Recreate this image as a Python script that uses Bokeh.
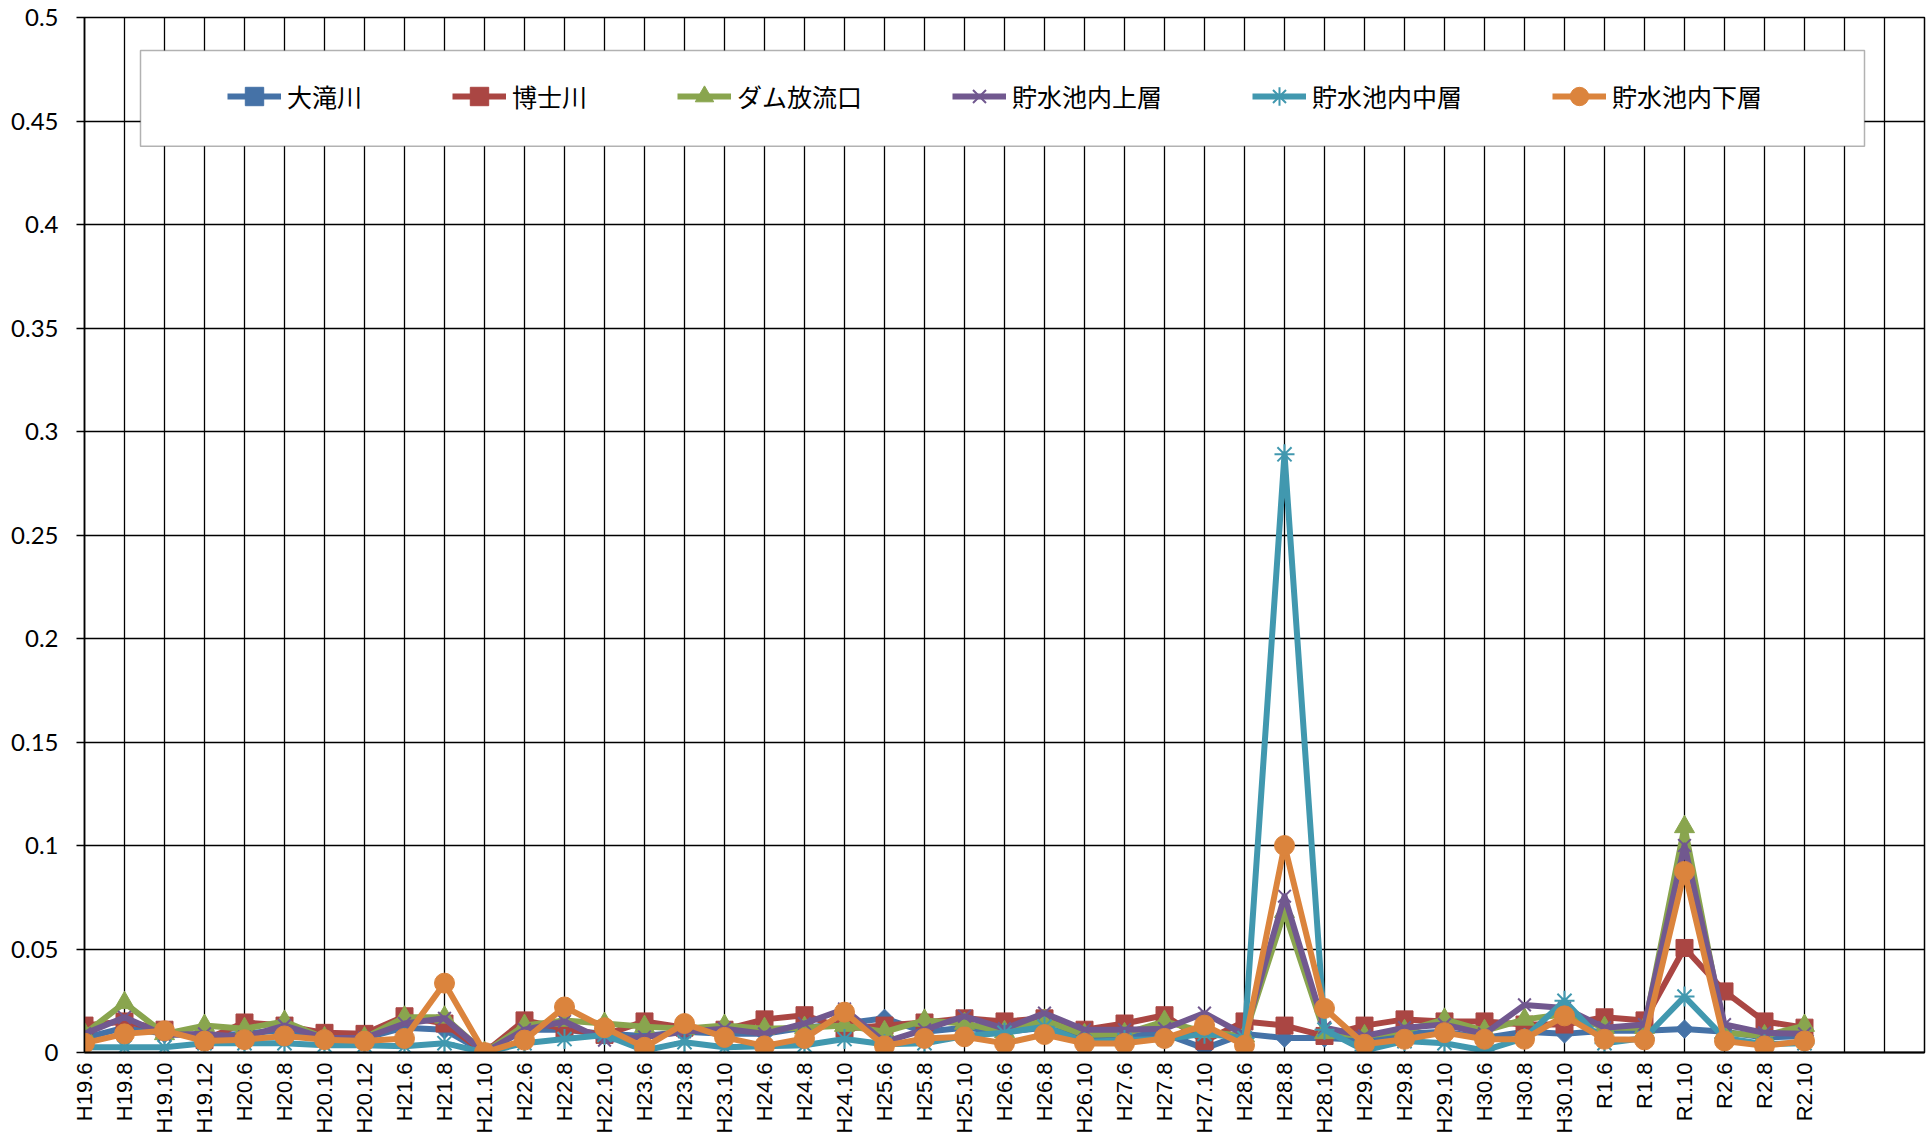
import math
from bokeh.plotting import figure
from bokeh.models import (Range1d, FixedTicker, ColumnDataSource, Legend,
                          LegendItem, BoxAnnotation)
from bokeh.embed import file_html
from bokeh.resources import INLINE

# ---------------- data ----------------
categories = ["H19.6", "H19.8", "H19.10", "H19.12", "H20.6", "H20.8", "H20.10", "H20.12",
              "H21.6", "H21.8", "H21.10", "H22.6", "H22.8", "H22.10", "H23.6", "H23.8",
              "H23.10", "H24.6", "H24.8", "H24.10", "H25.6", "H25.8", "H25.10", "H26.6",
              "H26.8", "H26.10", "H27.6", "H27.8", "H27.10", "H28.6", "H28.8", "H28.10",
              "H29.6", "H29.8", "H29.10", "H30.6", "H30.8", "H30.10", "R1.6", "R1.8",
              "R1.10", "R2.6", "R2.8", "R2.10"]
empty_slots = 3  # empty category slots after the last label

otaki = [0.007, 0.012, 0.009, 0.008, 0.009, 0.011, 0.007, 0.007, 0.012, 0.011, 0.0, 0.011,
         0.011, 0.009, 0.008, 0.010, 0.009, 0.009, 0.012, 0.014, 0.0165, 0.010, 0.012, 0.010,
         0.012, 0.007, 0.008, 0.009, 0.002, 0.009, 0.007, 0.007, 0.006, 0.009, 0.010, 0.007,
         0.010, 0.009, 0.0105, 0.0105, 0.0113, 0.010, 0.0072, 0.008]
hakase = [0.013, 0.015, 0.011, 0.006, 0.0145, 0.013, 0.0095, 0.009, 0.0175, 0.014, 0.0, 0.0155,
          0.0115, 0.0085, 0.015, 0.012, 0.011, 0.016, 0.018, 0.0115, 0.013, 0.0145, 0.0165,
          0.015, 0.0165, 0.011, 0.014, 0.018, 0.0055, 0.015, 0.013, 0.008, 0.013, 0.016, 0.015,
          0.015, 0.0135, 0.0135, 0.017, 0.0155, 0.0505, 0.0295, 0.015, 0.012]
dam_out = [0.009, 0.024, 0.009, 0.013, 0.0115, 0.015, 0.007, 0.007, 0.017, 0.017, 0.0, 0.013,
           0.0155, 0.014, 0.0125, 0.0115, 0.013, 0.0115, 0.012, 0.013, 0.010, 0.0155, 0.014,
           0.010, 0.0155, 0.0085, 0.009, 0.015, 0.010, 0.008, 0.068, 0.0095, 0.008, 0.0105,
           0.016, 0.0105, 0.016, 0.0185, 0.012, 0.012, 0.109, 0.0095, 0.008, 0.013]
upper = [0.009, 0.017, 0.0085, 0.009, 0.0075, 0.013, 0.007, 0.007, 0.014, 0.0165, 0.0, 0.011,
         0.015, 0.006, 0.0075, 0.010, 0.0115, 0.009, 0.014, 0.021, 0.005, 0.011, 0.0175, 0.0115,
         0.019, 0.011, 0.011, 0.0115, 0.019, 0.0085, 0.0755, 0.012, 0.008, 0.012, 0.0135, 0.009,
         0.023, 0.0215, 0.012, 0.0135, 0.100, 0.0135, 0.0095, 0.009]
middle = [0.0025, 0.0025, 0.0025, 0.0045, 0.0045, 0.0045, 0.0035, 0.0035, 0.003, 0.0045, 0.0,
          0.0045, 0.0065, 0.0085, 0.001, 0.005, 0.0025, 0.003, 0.0035, 0.0065, 0.004, 0.0045,
          0.008, 0.0095, 0.0125, 0.005, 0.006, 0.0065, 0.009, 0.007, 0.289, 0.011, 0.001, 0.0055,
          0.0045, 0.001, 0.007, 0.025, 0.0045, 0.007, 0.027, 0.007, 0.004, 0.0045]
lower = [0.0045, 0.009, 0.0105, 0.0055, 0.0062, 0.008, 0.0062, 0.0055, 0.0068, 0.0335, 0.0,
         0.006, 0.022, 0.012, 0.0025, 0.014, 0.0073, 0.0032, 0.0068, 0.0195, 0.0032, 0.0068,
         0.0076, 0.0044, 0.0087, 0.0044, 0.0044, 0.0068, 0.0132, 0.0035, 0.100, 0.0213, 0.004,
         0.0064, 0.0096, 0.0064, 0.0064, 0.0177, 0.0064, 0.0061, 0.0875, 0.0056, 0.0032, 0.0056]

series_names = ["大滝川", "博士川", "ダム放流口", "貯水池内上層", "貯水池内中層", "貯水池内下層"]
series_values = [otaki, hakase, dam_out, upper, middle, lower]

y_ticks = [0, 0.05, 0.1, 0.15, 0.2, 0.25, 0.3, 0.35, 0.4, 0.45, 0.5]
y_tick_labels = ["0", "0.05", "0.1", "0.15", "0.2", "0.25", "0.3", "0.35", "0.4", "0.45", "0.5"]

# ---------------- style ----------------
colors = ["#4572A7", "#AA4643", "#89A54E", "#71588F", "#4198AF", "#DB843D"]
markers = ["square", "square", "triangle", "x", "asterisk", "circle"]
marker_sizes = [13, 17, 20, 18, 20, 20]
marker_angles = [math.pi / 4, 0, 0, 0, 0, 0]
marker_lw = [1, 1, 1, 2, 2, 1]

W, H = 1928, 1136
LEFT, TOP, BOTTOM, RIGHT = 84, 17, 82, 4
frame_w = W - LEFT - RIGHT
frame_h = H - TOP - BOTTOM
slot_px = 40.0
x_end = frame_w / slot_px
px_per_y = frame_h / 0.5

p = figure(width=W, height=H, output_backend="svg", toolbar_location=None,
           x_range=Range1d(0, x_end), y_range=Range1d(0, 0.5),
           min_border_left=LEFT, min_border_top=TOP, min_border_bottom=BOTTOM,
           min_border_right=RIGHT)
p.background_fill_color = "white"
p.border_fill_color = "white"
p.outline_line_color = "black"
p.outline_line_width = 1.5

n_slots = len(categories) + empty_slots
x_ticks = list(range(n_slots))
x_labels = categories + [""] * empty_slots
p.xaxis.ticker = FixedTicker(ticks=x_ticks)
p.xaxis.major_label_overrides = dict(zip(x_ticks, x_labels))
p.xaxis.major_label_orientation = math.pi / 2
p.xaxis.major_label_text_font = "Liberation Sans"
p.xaxis.major_label_text_font_size = "22px"
p.xaxis.major_label_text_color = "black"
p.xaxis.major_label_standoff = 10
p.xaxis.major_tick_out = 0
p.xaxis.major_tick_in = 0
p.xaxis.minor_tick_out = 0
p.xaxis.minor_tick_in = 0
p.xaxis.axis_line_color = "black"
p.xaxis.axis_line_width = 2
p.xgrid.ticker = FixedTicker(ticks=x_ticks)
p.xgrid.grid_line_color = "black"
p.xgrid.grid_line_width = 1.3

p.yaxis.ticker = FixedTicker(ticks=y_ticks)
p.yaxis.major_label_overrides = dict(zip(y_ticks, y_tick_labels))
p.yaxis.axis_line_color = "black"
p.yaxis.axis_line_width = 1.5
p.yaxis.major_tick_line_color = "black"
p.yaxis.major_tick_line_width = 1.3
p.yaxis.major_tick_out = 8
p.yaxis.major_tick_in = 0
p.yaxis.minor_tick_out = 0
p.yaxis.minor_tick_in = 0
p.yaxis.major_label_standoff = 18
p.yaxis.major_label_text_font = "Lato"
p.yaxis.major_label_text_font_size = "24px"
p.yaxis.major_label_text_color = "black"
p.ygrid.ticker = FixedTicker(ticks=y_ticks)
p.ygrid.grid_line_color = "black"
p.ygrid.grid_line_width = 1.3

xs = list(range(len(categories)))
items = []
for name, vals, c, m, ms, ang, mlw in zip(series_names, series_values, colors, markers,
                                          marker_sizes, marker_angles, marker_lw):
    src = ColumnDataSource(dict(x=xs, y=vals))
    lr = p.line("x", "y", source=src, line_color=c, line_width=6, line_join="round")
    sr = p.scatter("x", "y", source=src, marker=m, size=ms, angle=ang,
                   fill_color=c, line_color=c, line_width=mlw)
    items.append(LegendItem(label=name, renderers=[lr, sr]))

# legend box (page px -> data)
frame_bottom_page = TOP + frame_h
box_l, box_r, box_t, box_b = 140, 1864, 50, 146
box = BoxAnnotation(left=(box_l - LEFT) / slot_px,
                    right=(box_r - LEFT) / slot_px,
                    top=(frame_bottom_page - box_t) / px_per_y,
                    bottom=(frame_bottom_page - box_b) / px_per_y,
                    fill_color="white", fill_alpha=1.0,
                    line_color="black", line_width=1.5)
p.add_layout(box)

glyph_h = 46
legend_x = 227 - LEFT
legend_y = frame_bottom_page - 98 - glyph_h / 2
legend = Legend(items=items, orientation="horizontal", location=(legend_x, legend_y),
                padding=0, margin=0, spacing=90, glyph_width=54, glyph_height=glyph_h,
                label_standoff=6, label_height=glyph_h,
                label_text_font="Noto Sans CJK JP", label_text_font_size="25px",
                label_text_color="black", border_line_alpha=0, background_fill_alpha=0)
p.add_layout(legend)

open("out.html", "w").write(file_html(p, INLINE))
